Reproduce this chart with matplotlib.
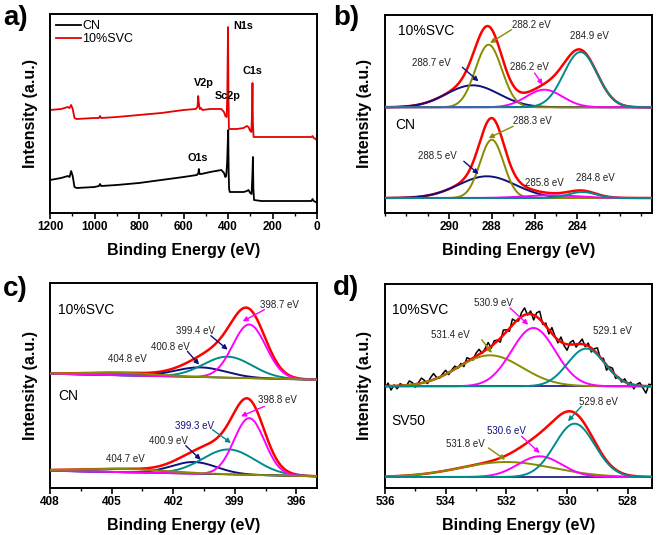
import numpy as np
import matplotlib
matplotlib.use('Agg')
import matplotlib.pyplot as plt
from matplotlib.ticker import MultipleLocator, FixedLocator

plt.rcParams['font.family'] = ['Liberation Sans', 'DejaVu Sans']

W, H = 661, 535

# ---- a) survey spectra (binding energy, intensity) ----
survey_cn_ev = [1200, 1150, 1120, 1112, 1105, 1098, 1090, 1080, 1000, 980, 975, 970, 900, 800,
                700, 600, 540, 533, 531, 528, 520, 480, 430, 418, 412, 408, 404, 401, 399, 397,
                395, 392, 360, 330, 315, 308, 300, 294, 290, 288, 286, 283, 250, 150, 50, 25,
                20, 15, 5, 0]
survey_cn = [33, 35, 37, 36, 42, 37, 26, 25, 26, 27, 29, 27, 28, 30,
             33, 36, 38, 40, 44, 39, 39, 41, 43, 40, 36, 37, 50, 70, 83, 40,
             24, 21, 21, 21, 22, 23, 20, 19, 40, 56, 25, 13, 12, 12, 12, 12,
             14, 12, 11, 10]
survey_svc_ev = [1200, 1150, 1120, 1112, 1105, 1098, 1090, 1080, 1000, 980, 975, 970, 900, 800,
                 700, 600, 545, 537, 534, 531, 527, 522, 515, 480, 430, 418, 412, 406, 403, 400,
                 398, 396, 393, 360, 330, 315, 308, 300, 295, 292, 290, 288, 285, 250, 150, 50,
                 25, 20, 15, 5, 0]
survey_svc = [103, 104, 106, 105, 108, 104, 95, 94, 95, 95, 97, 95, 96, 98,
              100, 103, 104, 106, 117, 110, 104, 105, 103, 104, 104, 101, 97, 96, 120, 186,
              120, 85, 84, 84, 85, 87, 86, 82, 81, 100, 130, 90, 76, 76, 76, 76,
              76, 77, 75, 74, 72]
survey_labels = ['N1s', 'C1s', 'V2p', 'Sc2p', 'O1s']
survey_label_ev = [330, 292, 510, 400, 537]
survey_label_y = [187, 142, 130, 117, 55]

# ---- fitted components: centre (eV), height, FWHM (eV) ----
# b) C1s   order: navy, olive, magenta, teal
c1s_ticks = [290, 288, 286, 284]
c1s_svc_center = [288.9, 288.15, 285.54, 283.85]
c1s_svc_height = [22, 62.6, 17.6, 55.3]
c1s_svc_fwhm = [2.9, 1.46, 2.0, 1.85]
c1s_svc_base = 105.7
c1s_cn_center = [288.23, 288.0, 285.2, 283.77]
c1s_cn_height = [21.7, 58.3, 2.7, 6.0]
c1s_cn_fwhm = [3.15, 1.3, 3.0, 1.5]
c1s_cn_base = 15.0

# c) N1s   order: navy, teal, magenta, olive
n1s_svc_center = [400.66, 399.35, 398.3, 404.5]
n1s_svc_height = [9.7, 21.0, 53.7, 2.5]
n1s_svc_fwhm = [2.9, 2.8, 1.9, 4.0]
n1s_svc_base = [114.3, 108.3]
n1s_cn_center = [400.99, 399.3, 398.3, 404.33]
n1s_cn_height = [11.7, 25.0, 56.7, 3.3]
n1s_cn_fwhm = [2.6, 3.0, 1.75, 5.0]
n1s_cn_base = [17.3, 11.7]

# d) O1s   order: olive, magenta, teal
o1s_svc_center = [532.54, 531.11, 529.37]
o1s_svc_height = [31, 58.3, 37.7]
o1s_svc_fwhm = [2.5, 1.7, 1.45]
o1s_svc_base = 101.7
o1s_sv50_center = [532.0, 530.9, 529.75]
o1s_sv50_height = [15, 20.7, 53.3]
o1s_sv50_fwhm = [3.6, 1.7, 1.55]
o1s_sv50_base = 11.0
# raw-data deviation from the fit, 10%SVC, 536.0 -> 527.2 eV every 0.1 eV
o1s_svc_resid = [-2, 3, -4, 1, -3, 2, 0, -1, 4, 2,
                 -3, 1, 5, 2, -2, 3, 6, 1, -1, 2,
                 4, -2, 1, 3, -1, 2, -3, 4, 1, -2,
                 3, 5, -1, 2, 6, -2, 3, 1, -4, 5,
                 2, -3, 6, 1, -2, 4, 7, -1, 3, -5,
                 4, 8, -2, 3, -4, 6, 1, -3, 5, -2,
                 -6, 2, 4, -3, 1, 5, -2, 3, -4, 2,
                 6, -1, 3, -5, 2, 4, -3, 1, -2, 3,
                 -1, 2, -4, 1, 3, -2, -7, 2, 1]

RED = '#ff0000'
NAVY = '#10107a'
OLIVE = '#8a8a00'
MAGENTA = '#ff00ff'
TEAL = '#008b8b'
TXT = '#222222'


def gauss(x, c, h, fwhm):
    s = fwhm / 2.3548
    return h * np.exp(-0.5 * ((x - c) / s) ** 2)


def px_axes(fig, l, t, r, b):
    return fig.add_axes([l / W, 1 - b / H, (r - l) / W, (b - t) / H])


def style(ax, xlim, ylim, major, minor, ticks=None):
    ax.set_xlim(*xlim)
    ax.set_ylim(*ylim)
    if ticks is None:
        ax.xaxis.set_major_locator(MultipleLocator(major))
    else:
        ax.xaxis.set_major_locator(FixedLocator(ticks))
    ax.xaxis.set_minor_locator(MultipleLocator(minor))
    ax.set_yticks([])
    ax.tick_params(axis='x', which='major', direction='out', length=4, width=1.2,
                   labelsize=8.5, pad=2)
    ax.tick_params(axis='x', which='minor', direction='out', length=2.5, width=1)
    for lab in ax.get_xticklabels():
        lab.set_fontweight('bold')
    for sp in ax.spines.values():
        sp.set_linewidth(1.4)
    ax.set_xlabel('Binding Energy (eV)', fontsize=11.5, fontweight='bold', labelpad=7)
    ax.set_ylabel('Intensity (a.u.)', fontsize=11.5, fontweight='bold', labelpad=9)


def fit_panel(ax, x, centers, heights, fwhms, base, colors):
    comps = [gauss(x, c, h, f) for c, h, f in zip(centers, heights, fwhms)]
    env = base + np.sum(comps, axis=0)
    ax.plot(x, env, color=RED, lw=1.8, zorder=3)
    for comp, col in zip(comps, colors):
        ax.plot(x, base + comp, color=col, lw=1.4, zorder=4)
    return env


def note(ax, text, pos, tail=None, head=None, color=TXT, arrow=None):
    ax.text(pos[0], pos[1], text, fontsize=7, color=color, ha='center', va='center', zorder=6)
    if tail is not None:
        ax.annotate('', xy=head, xytext=tail,
                    arrowprops=dict(arrowstyle='-|>', color=arrow, lw=1.0,
                                    mutation_scale=7, shrinkA=0, shrinkB=0), zorder=6)


fig = plt.figure(figsize=(W / 100, H / 100), dpi=100)

# ---------------- a) ----------------
ax = px_axes(fig, 50, 14, 317, 213)
ax.plot(survey_cn_ev, survey_cn, color='black', lw=1.3, label='CN')
ax.plot(survey_svc_ev, survey_svc, color='#e60000', lw=1.3, label='10%SVC')
style(ax, (1200, 0), (0, 199), 200, 100)
for lab, e, y in zip(survey_labels, survey_label_ev, survey_label_y):
    ax.text(e, y, lab, fontsize=7.8, fontweight='bold', ha='center', va='center')
ax.legend(loc='upper left', frameon=False, fontsize=9, handlelength=2.0,
          handletextpad=0.1, labelspacing=0.05, borderaxespad=0.3, borderpad=0.2)

# ---------------- b) ----------------
ax = px_axes(fig, 385, 15, 652, 213)
xb = np.linspace(293, 280.5, 600)
colors_b = [NAVY, OLIVE, MAGENTA, TEAL]
fit_panel(ax, xb, c1s_svc_center, c1s_svc_height, c1s_svc_fwhm, c1s_svc_base, colors_b)
fit_panel(ax, xb, c1s_cn_center, c1s_cn_height, c1s_cn_fwhm, c1s_cn_base, colors_b)
ax.axhline(c1s_svc_base, color=NAVY, lw=1.2, zorder=2)
ax.axhline(c1s_cn_base, color=NAVY, lw=1.2, zorder=2)
style(ax, (293, 280.5), (0, 198), 2, 1, ticks=c1s_ticks)
ax.text(292.4, 181.7, '10%SVC', fontsize=10, ha='left', va='center')
ax.text(292.5, 88.3, 'CN', fontsize=10, ha='left', va='center')
note(ax, '288.2 eV', (286.15, 188.3), (287.08, 183.3), (288.08, 170), arrow=OLIVE)
note(ax, '284.9 eV', (283.42, 176.7))
note(ax, '288.7 eV', (290.85, 150), (289.38, 145.7), (288.62, 131.7), arrow=NAVY)
note(ax, '286.2 eV', (286.26, 146), (286.0, 140), (285.62, 128.3), arrow=MAGENTA)
note(ax, '288.3 eV', (286.08, 91.7), (287.0, 86.7), (288.15, 75), arrow=OLIVE)
note(ax, '288.5 eV', (290.54, 56.7), (289.31, 51.7), (288.62, 39), arrow=NAVY)
note(ax, '285.8 eV', (285.54, 30))
note(ax, '284.8 eV', (283.15, 35))

# ---------------- c) ----------------
ax = px_axes(fig, 50, 283, 317, 488)
xc = np.linspace(408, 395, 600)
colors_c = [NAVY, TEAL, MAGENTA, OLIVE]
for cen, hgt, fw, bs in [(n1s_svc_center, n1s_svc_height, n1s_svc_fwhm, n1s_svc_base),
                         (n1s_cn_center, n1s_cn_height, n1s_cn_fwhm, n1s_cn_base)]:
    base = np.linspace(bs[0], bs[1], xc.size)
    fit_panel(ax, xc, cen, hgt, fw, base, colors_c)
    ax.plot(xc, base, color=NAVY, lw=1.2, zorder=2)
style(ax, (408, 395), (0, 205), 3, 1.5)
ax.text(407.6, 178.3, '10%SVC', fontsize=10, ha='left', va='center')
ax.text(407.6, 91.7, 'CN', fontsize=10, ha='left', va='center')
note(ax, '398.7 eV', (396.83, 183.3), (397.56, 178.3), (398.62, 166.7), arrow=MAGENTA)
note(ax, '399.4 eV', (400.9, 156.7), (400.17, 152.3), (399.35, 138.3), arrow=NAVY)
note(ax, '400.8 eV', (402.13, 141), (401.31, 136.7), (400.74, 123.3), arrow=NAVY)
note(ax, '404.8 eV', (404.25, 129))
note(ax, '398.8 eV', (396.91, 87.7), (397.56, 81.7), (398.7, 71.7), arrow=MAGENTA)
note(ax, '399.3 eV', (400.95, 62.3), (400.09, 58.3), (399.19, 45), color=NAVY, arrow=TEAL)
note(ax, '400.9 eV', (402.21, 46.7), (401.39, 42.3), (400.66, 28.3), arrow=NAVY)
note(ax, '404.7 eV', (404.33, 29))

# ---------------- d) ----------------
ax = px_axes(fig, 385, 284, 652, 488)
xd = np.linspace(536, 527.2, 600)
colors_d = [OLIVE, MAGENTA, TEAL]
raw_ev = np.round(np.arange(536.0, 527.15, -0.1), 2)
raw_fit = o1s_svc_base + np.sum([gauss(raw_ev, c, h, f) for c, h, f in
                                 zip(o1s_svc_center, o1s_svc_height, o1s_svc_fwhm)], axis=0)
ax.plot(raw_ev, raw_fit + np.array(o1s_svc_resid), color='black', lw=1.1, zorder=2)
fit_panel(ax, xd, o1s_svc_center, o1s_svc_height, o1s_svc_fwhm, o1s_svc_base, colors_d)
fit_panel(ax, xd, o1s_sv50_center, o1s_sv50_height, o1s_sv50_fwhm, o1s_sv50_base, colors_d)
ax.axhline(o1s_svc_base, color=NAVY, lw=1.2, zorder=2)
ax.axhline(o1s_sv50_base, color=NAVY, lw=1.2, zorder=2)
style(ax, (536, 527.2), (0, 204), 2, 1)
ax.text(535.78, 178.3, '10%SVC', fontsize=10, ha='left', va='center')
ax.text(535.78, 66.7, 'SV50', fontsize=10, ha='left', va='center')
note(ax, '530.9 eV', (532.43, 185), (531.88, 180), (531.28, 163.3), arrow=MAGENTA)
note(ax, '531.4 eV', (533.85, 153.3), (532.81, 148.3), (532.48, 135), arrow=OLIVE)
note(ax, '529.1 eV', (528.49, 156.7))
note(ax, '529.8 eV', (528.98, 85.7), (529.53, 81.7), (529.97, 66.7), arrow=TEAL)
note(ax, '530.6 eV', (531.99, 56.7), (531.5, 51.7), (530.9, 35), color=NAVY, arrow=MAGENTA)
note(ax, '531.8 eV', (533.36, 44.3), (532.59, 40), (532.04, 28.3), arrow=OLIVE)

# panel letters
for letter, (xp, yp) in zip(['a)', 'b)', 'c)', 'd)'], [(3, 25), (333, 25), (3, 296), (333, 295)]):
    fig.text(xp / W, 1 - yp / H, letter, fontsize=20, fontweight='bold', ha='left', va='baseline')

fig.savefig('out.png', dpi=100)
